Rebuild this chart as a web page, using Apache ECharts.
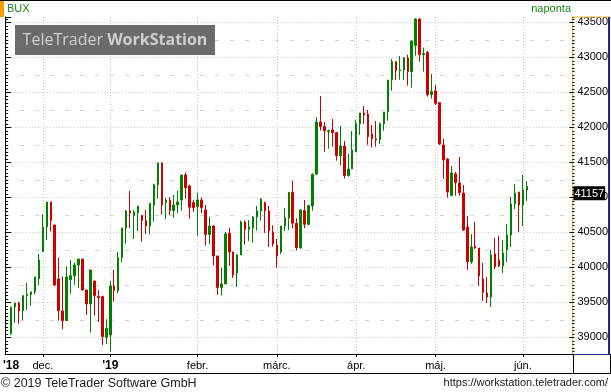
<!DOCTYPE html>
<html><head><meta charset="utf-8">
<script src="https://cdn.jsdelivr.net/npm/echarts@6/dist/echarts.min.js"></script>
<style>html,body{margin:0;padding:0;background:#fff}#c{width:611px;height:392px}</style>
</head><body><div id="c"></div>
<script>
// Trading days (categories)
const dates = [
'2018-11-21','2018-11-22','2018-11-23','2018-11-26','2018-11-27','2018-11-28','2018-11-29','2018-11-30',
'2018-12-03','2018-12-04','2018-12-05','2018-12-06','2018-12-07','2018-12-10','2018-12-11','2018-12-12','2018-12-13','2018-12-14','2018-12-17','2018-12-18','2018-12-19','2018-12-20','2018-12-21','2018-12-27','2018-12-28',
'2019-01-02','2019-01-03','2019-01-04','2019-01-07','2019-01-08','2019-01-09','2019-01-10','2019-01-11','2019-01-14','2019-01-15','2019-01-16','2019-01-17','2019-01-18','2019-01-21','2019-01-22','2019-01-23','2019-01-24','2019-01-25','2019-01-28','2019-01-29','2019-01-30','2019-01-31',
'2019-02-01','2019-02-04','2019-02-05','2019-02-06','2019-02-07','2019-02-08','2019-02-11','2019-02-12','2019-02-13','2019-02-14','2019-02-15','2019-02-18','2019-02-19','2019-02-20','2019-02-21','2019-02-22','2019-02-25','2019-02-26','2019-02-27','2019-02-28',
'2019-03-01','2019-03-04','2019-03-05','2019-03-06','2019-03-07','2019-03-08','2019-03-11','2019-03-12','2019-03-13','2019-03-14','2019-03-18','2019-03-19','2019-03-20','2019-03-21','2019-03-22','2019-03-25','2019-03-26','2019-03-27','2019-03-28','2019-03-29',
'2019-04-01','2019-04-02','2019-04-03','2019-04-04','2019-04-05','2019-04-08','2019-04-09','2019-04-10','2019-04-11','2019-04-12','2019-04-15','2019-04-16','2019-04-17','2019-04-18','2019-04-23','2019-04-24','2019-04-25','2019-04-26','2019-04-29','2019-04-30',
'2019-05-02','2019-05-03','2019-05-06','2019-05-07','2019-05-08','2019-05-09','2019-05-10','2019-05-13','2019-05-14','2019-05-15','2019-05-16','2019-05-17','2019-05-20','2019-05-21','2019-05-22','2019-05-23','2019-05-24','2019-05-27','2019-05-28','2019-05-29','2019-05-30','2019-05-31',
'2019-06-03','2019-06-04'
];
const openVals = [39057,39433,39490,39381,39595,39610,39648,39838,40224,40576,
40933,40605,39833,39376,39238,39824,39881,40033,40119,39676,
39476,39805,39581,39581,39000,39033,39733,39667,40138,40562,
40805,40738,40781,40738,40667,40590,40890,41181,41490,40924,
40962,40810,40890,40962,41319,41162,40924,40867,40962,40819,
40467,40590,40162,39710,39762,40486,40219,39919,40176,40648,
40543,40562,40719,40805,40924,40805,40505,40319,40219,40590,
40705,41071,40629,40280,40809,40614,40876,41333,42076,42010,
41938,41962,41924,41595,41733,41310,41405,41652,42052,42205,
42190,41905,41838,41824,42052,42219,42676,42938,42805,42819,
42990,42795,43167,43548,43038,43067,42467,42519,42352,41748,
41548,41024,41333,41205,41062,40576,40076,40305,40276,39833,
39633,39576,40190,40105,40019,40248,40462,40905,41076,40890,
41105];
const closeVals = [39429,39490,39376,39595,39610,39648,39862,40105,40576,40933,
40667,39748,39381,39238,39862,39881,40033,40119,39676,39476,
39962,39595,39567,39010,39129,39733,39667,40138,40562,40805,
40776,40790,40876,40667,40590,40914,41181,41490,40890,40962,
40810,40890,40933,41319,41138,40857,40852,40962,40852,40467,
40590,40162,39710,39762,40476,40219,39890,40176,40648,40543,
40576,40719,40805,40976,40810,40519,40333,40162,40590,40705,
41071,40629,40280,40819,40614,40880,41324,42076,42010,41952,
41952,41924,41595,41733,41310,41405,41676,42052,42205,42176,
41867,41838,41824,42052,42219,42676,42938,42810,42819,42990,
42795,43233,43548,43038,43052,42467,42510,42343,41762,41533,
41076,41348,41210,41067,40533,40081,40290,40276,39876,39638,
39576,40176,40005,40019,40205,40462,40905,41062,40890,41105,
41157];
const lowVals = [39033,39205,39195,39248,39390,39452,39614,39748,40224,40390,
40510,39733,39238,39114,39238,39624,39748,39705,39667,39319,
39067,39310,39219,38890,38905,38794,39510,39629,40071,40338,
40562,40405,40519,40367,40476,40467,40652,40981,40752,40686,
40743,40710,40771,40810,40981,40695,40790,40452,40771,40310,
40329,40029,39605,39595,39762,40019,39848,39719,40176,40324,
40376,40352,40524,40667,40490,40290,40295,39995,40190,40519,
40533,40557,40240,40262,40557,40600,40809,41319,41952,41652,
41695,41724,41524,41452,41267,41295,41405,41652,41890,42052,
41752,41710,41724,41762,41952,42095,42524,42676,42681,42681,
42595,42567,43024,42938,42795,42438,42410,42319,41748,41262,
40995,41024,41024,41024,40519,39962,40048,40262,39733,39519,
39490,39433,39976,40005,39919,40076,40290,40833,40505,40590,
40948];
const highVals = [39438,39490,39509,39600,39776,39650,39865,40190,40757,40933,
40935,40605,40138,39867,40010,40105,40067,40119,40119,39676,
39962,39805,39676,39595,39257,39805,39962,40219,40562,40819,
41090,40819,40876,40748,40819,40914,41195,41500,41500,40995,
41000,41033,41095,41319,41352,41181,40962,41067,40995,40890,
40724,40605,40162,39995,40505,40562,40219,40186,40667,40667,
40676,40733,40876,40990,40938,40876,40600,40405,40590,40848,
41076,41233,40700,40830,40961,40895,41343,42148,42448,42076,
41967,42119,41933,42019,41805,41619,41948,42105,42205,42305,
42248,42033,42090,42067,42219,42676,42976,42938,43019,43005,
43038,43233,43560,43560,43138,43090,42762,42605,42362,41833,
41562,41448,41362,41576,41176,40733,40476,40648,40276,40062,
39862,40248,40419,40448,40390,40619,41005,41190,41076,41319,
41233];
// x tick labels (month starts)
const tickDates  = ['2018-11-21','2018-12-03','2019-01-02','2019-02-01','2019-03-01','2019-04-01','2019-05-02','2019-06-03'];
const tickLabels = ["'18","dec.","'19","febr.","márc.","ápr.","máj.","jún."];
const yearTicks  = ["'18","'19"];
const gridDates  = ['2018-12-03','2019-01-02','2019-02-01','2019-03-01','2019-04-01','2019-05-02','2019-06-03'];
const lastValue = 41157;
const yMin = 38761, yMax = 43576;

// layout padding categories
const padBefore = ['p0'];
const padAfter = []; for (let i = 1; i <= 11; i++) padAfter.push('q' + i);
const cats = padBefore.concat(dates, padAfter);
const ohlc = padBefore.map(() => '-')
  .concat(dates.map((d, i) => [openVals[i], closeVals[i], lowVals[i], highVals[i]]))
  .concat(padAfter.map(() => '-'));
const labelMap = {}; tickDates.forEach((d, i) => labelMap[d] = tickLabels[i]);
const gridSet = new Set(gridDates);

const FONT = '"Liberation Sans", Arial, sans-serif';
const GREEN = '#008000', RED = '#cc0000';
const chart = echarts.init(document.getElementById('c'), null, {renderer: 'canvas'});
chart.setOption({
  animation: false,
  backgroundColor: '#fff',
  grid: {left: 1, top: 17, width: 572, height: 337},
  xAxis: {
    type: 'category', data: cats, boundaryGap: true,
    axisLine: {show: true, lineStyle: {color: '#000', width: 1}},
    axisTick: {show: true, alignWithLabel: true, length: 3, lineStyle: {color: '#000'},
      interval: (i, v) => gridSet.has(v)},
    axisLabel: {
      interval: (i, v) => v in labelMap, margin: 6, fontSize: 11, color: '#000', fontFamily: FONT,
      formatter: v => labelMap[v] ? (yearTicks.includes(labelMap[v]) ? '{b|' + labelMap[v] + '}' : labelMap[v]) : '',
      rich: {b: {fontWeight: 'bold', fontSize: 12, fontFamily: FONT, color: '#000'}}
    },
    splitLine: {show: true, alignWithLabel: true, interval: (i, v) => gridSet.has(v),
      lineStyle: {color: '#c8c8c8', type: [1, 2], width: 1}}
  },
  yAxis: [
    {type: 'value', position: 'right', min: yMin, max: yMax, splitNumber: 10,
      axisLine: {show: true, lineStyle: {color: '#e8b830', width: 1}},
      axisTick: {show: true, inside: true, length: 3, lineStyle: {color: '#000'}},
      axisLabel: {show: true, margin: 5, fontSize: 11, color: '#000', fontFamily: FONT,
        showMinLabel: false, showMaxLabel: false, formatter: v => String(v)},
      splitLine: {show: true, showMinLine: false, showMaxLine: false,
        lineStyle: {color: '#c8c8c8', type: [1, 2], width: 1}}},
    {type: 'value', position: 'right', min: yMin + 250, max: yMax + 250, splitNumber: 10,
      axisLine: {show: false}, axisTick: {show: false}, axisLabel: {show: false},
      splitLine: {show: true, showMinLine: false, showMaxLine: false,
        lineStyle: {color: '#d4d4d4', type: [4, 11], width: 1}}},
    {type: 'value', position: 'right', min: yMin, max: yMax, splitNumber: 96,
      axisLine: {show: false}, axisTick: {show: true, inside: false, length: 2, lineStyle: {color: '#000'}},
      axisLabel: {show: false}, splitLine: {show: false}},
    {type: 'value', position: 'left', min: yMin, max: yMax, splitNumber: 96,
      axisLine: {show: true, lineStyle: {color: '#000'}},
      axisTick: {show: true, inside: true, length: 3, lineStyle: {color: '#000'}},
      axisLabel: {show: false}, splitLine: {show: false}},
    {type: 'value', position: 'left', min: yMin, max: yMax, splitNumber: 10,
      axisLine: {show: false},
      axisTick: {show: true, inside: true, length: 6, lineStyle: {color: '#000'}},
      axisLabel: {show: false}, splitLine: {show: false}}
  ],
  series: [{
    type: 'candlestick', data: ohlc, xAxisIndex: 0, yAxisIndex: 0, barWidth: 2,
    itemStyle: {color: GREEN, color0: RED, borderColor: GREEN, borderColor0: RED, borderWidth: 1},
    markLine: {
      silent: true, symbol: ['none', 'none'], animation: false,
      lineStyle: {color: 'rgba(0,0,0,0)', width: 1, type: 'solid'},
      label: {show: true, position: 'end', distance: 1, formatter: String(lastValue),
        color: '#fff', backgroundColor: '#000', fontSize: 11, fontFamily: FONT,
        padding: [2, 1, 1, 1], verticalAlign: 'top'},
      data: [{yAxis: lastValue}]
    }
  }],
  graphic: [
    {type: 'rect', z: 50, shape: {x: 0, y: 0, width: 611, height: 1}, style: {fill: '#000'}},
    {type: 'rect', z: 50, shape: {x: 0, y: 1, width: 4, height: 16}, style: {fill: '#f5a000'}},
    {type: 'text', z: 50, x: 7, y: 3, style: {text: 'BUX', fill: '#1a8a1a', font: '11px ' + FONT}},
    {type: 'text', z: 50, x: 571, y: 3, style: {text: 'naponta', fill: '#1a8a1a', font: '11px ' + FONT, textAlign: 'right'}},
    {type: 'rect', z: 50, shape: {x: 15, y: 25, width: 200, height: 30}, style: {fill: '#6b6b6b'}},
    {type: 'text', z: 51, x: 115, y: 40, style: {
      text: '{n|TeleTrader }{b|WorkStation}', textAlign: 'center', textVerticalAlign: 'middle',
      rich: {n: {fill: '#cfcfcf', font: '16px "Open Sans", sans-serif'},
             b: {fill: '#cfcfcf', font: 'bold 16px "Open Sans", sans-serif'}}}},
    {type: 'rect', z: 50, shape: {x: 573, y: 16.5, width: 38, height: 1}, style: {fill: '#e8b830'}},
    {type: 'rect', z: 50, shape: {x: 608, y: 17, width: 2, height: 338}, style: {fill: '#1a2a8a'}},
    {type: 'rect', z: 50, shape: {x: 573, y: 354, width: 38, height: 1}, style: {fill: '#1a2a8a'}},
    {type: 'rect', z: 50, shape: {x: 0, y: 373, width: 611, height: 1}, style: {fill: '#000'}},
    {type: 'rect', z: 50, shape: {x: 573, y: 354, width: 1, height: 19}, style: {fill: '#000'}},
    {type: 'rect', z: 50, shape: {x: 610, y: 354, width: 1, height: 19}, style: {fill: '#000'}},
    {type: 'text', z: 50, x: 1, y: 377, style: {text: '© 2019 TeleTrader Software GmbH', fill: '#222', font: '12.5px ' + FONT}},
    {type: 'text', z: 50, x: 608, y: 377, style: {text: 'https://workstation.teletrader.com/', fill: '#222', font: '11px ' + FONT, textAlign: 'right'}}
  ]
});
</script></body></html>
